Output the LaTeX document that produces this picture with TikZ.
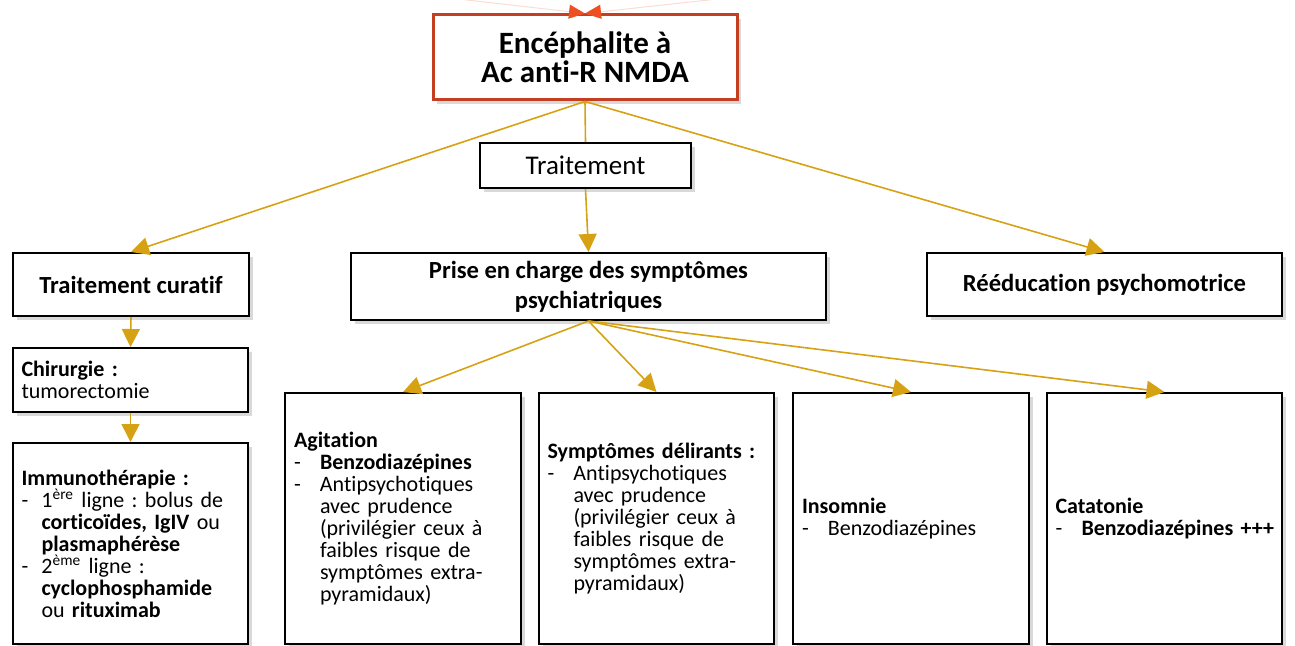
\documentclass[tikz,border=0pt]{standalone}
\usepackage{fontspec}
\setmainfont{Carlito}[Ligatures=NoCommon]
\frenchspacing
\usetikzlibrary{arrows.meta,shadows}
\definecolor{arrowgold}{RGB}{214,162,20}
\definecolor{topred}{RGB}{196,62,34}
\definecolor{tipred}{RGB}{238,80,36}
\newcommand\lidash[1][13pt]{\makebox[#1][l]{-}}
\newcommand\lipad[1][13pt]{\hspace*{#1}}

\begin{document}
\begin{tikzpicture}[x=0.5pt, y=-0.5pt,
	box/.style={draw=black, line width=1pt, fill=white, drop shadow={shadow xshift=2pt, shadow yshift=-2pt, opacity=0.3}},
	head/.style={box, font=\fontsize{12.3}{15}\selectfont\bfseries, align=center},
	txt/.style={box, font=\fontsize{11}{11}\selectfont, align=left, text width=109pt, inner xsep=4pt},
	wire/.style={draw=arrowgold, line width=0.8pt},
	link/.style={wire, -{Triangle[length=9pt,width=9pt]}},
	topin/.style={draw=tipred!20, line width=0.5pt, -{Triangle[length=8pt,width=7pt,color=tipred]}}]
	\useasboundingbox (0,0) rectangle (1295,646);
	\clip (0,0) rectangle (1295,646);
	\coordinate (srcL) at (380,-10);
	\coordinate (srcR) at (800,-10);
	% top of the tree
	\node[box, draw=topred, line width=1.5pt, minimum width=152pt, minimum height=42.5pt, align=center, font=\fontsize{15.5}{14.5}\selectfont\bfseries] (enc) at (585,57.5) {Encéphalite à\\Ac anti-R NMDA};
	\node[box, minimum width=105.5pt, minimum height=22.5pt, font=\fontsize{13.5}{16}\selectfont] (trt) at (585.5,165.5) {Traitement};
	\draw[topin] (srcL) -- (enc.north);
	\draw[topin] (srcR) -- (enc.north);
	% second row
	\node[head, minimum width=118pt, minimum height=31.5pt] (cur) at (131,284.5) {Traitement curatif};
	\node[head, minimum width=237.5pt, minimum height=33.5pt] (psy) at (588.5,286.5) {Prise en charge des symptômes\\psychiatriques};
	\node[head, minimum width=177.5pt, minimum height=31.5pt] (reed) at (1104.5,284.5) {Rééducation psychomotrice};
	% curative branch
	\node[txt, minimum width=117.5pt, minimum height=32pt] (chir) at (130.5,380) {\textbf{Chirurgie :}\\tumorectomie};
	\node[txt, minimum width=117.5pt, minimum height=100.5pt] (immu) at (130.5,543.5) {\textbf{Immunothérapie :}\\
		\lidash[10pt]1\textsuperscript{ère} ligne : bolus de\\
		\lipad[10pt]\textbf{corticoïdes, IgIV} ou\\
		\lipad[10pt]\textbf{plasmaphérèse}\\
		\lidash[10pt]2\textsuperscript{ème} ligne :\\
		\lipad[10pt]\textbf{cyclophosphamide}\\
		\lipad[10pt]ou \textbf{rituximab}};
	% psychiatric symptoms
	\node[txt, minimum width=118pt, minimum height=125.5pt] (agit) at (403,518.5) {\textbf{Agitation}\\
		\lidash\textbf{Benzodiazépines}\\
		\lidash Antipsychotiques\\
		\lipad avec prudence\\
		\lipad(privilégier ceux à\\
		\lipad faibles risque de\\
		\lipad symptômes extra-\\
		\lipad pyramidaux)};
	\node[txt, minimum width=117.5pt, minimum height=125.5pt] (delir) at (656.5,518.5) {\textbf{Symptômes délirants :}\\
		\lidash Antipsychotiques\\
		\lipad avec prudence\\
		\lipad(privilégier ceux à\\
		\lipad faibles risque de\\
		\lipad symptômes extra-\\
		\lipad pyramidaux)};
	\node[txt, minimum width=118pt, minimum height=125.5pt] (inso) at (911,518.5) {\textbf{Insomnie}\\
		\lidash Benzodiazépines};
	\node[txt, minimum width=117.5pt, minimum height=125.5pt] (cata) at (1164.5,518.5) {\textbf{Catatonie}\\
		\lidash\mbox{\textbf{Benzodiazépines +++}}};
	% connectors
	\draw[wire] (enc.south) -- (trt.north);
	\draw[link] (trt.south) -- (psy.north);
	\draw[link] (enc.south) -- (cur.north);
	\draw[link] (enc.south) -- (reed.north);
	\draw[link] (cur.south) -- (chir.north);
	\draw[link] (chir.south) -- (immu.north);
	\foreach \t in {agit,delir,inso,cata} \draw[link] (psy.south) -- (\t.north);
\end{tikzpicture}
\end{document}
